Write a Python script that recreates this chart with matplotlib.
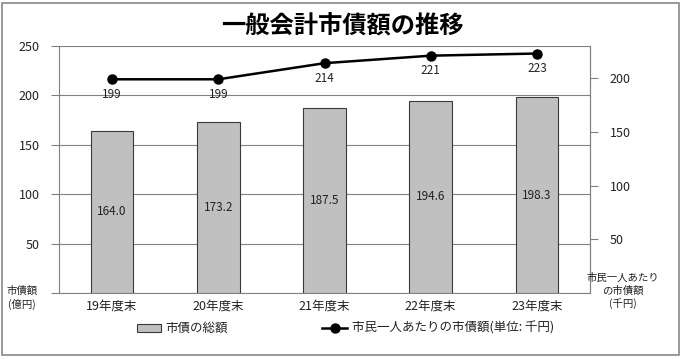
import matplotlib
matplotlib.use("Agg")
import matplotlib.pyplot as plt
from matplotlib.patches import Rectangle
from matplotlib.lines import Line2D

plt.rcParams['font.family'] = ['Noto Sans CJK JP', 'DejaVu Sans']

categories = ["19年度末", "20年度末", "21年度末", "22年度末", "23年度末"]
total_debt = [164.0, 173.2, 187.5, 194.6, 198.3]
per_capita = [199, 199, 214, 221, 223]
left_ticks = [50, 100, 150, 200, 250]
right_ticks = [50, 100, 150, 200]

W, H = 684, 359
fig = plt.figure(figsize=(W/100, H/100), dpi=100)
fig.patch.set_facecolor('white')
fig.patches.append(Rectangle((2/W, 4/H), 677/W, 352/H, transform=fig.transFigure,
                             fill=False, edgecolor='#888888', linewidth=1.2))

L, R, T, B = 59, 590, 46, 293
ax = fig.add_axes([L/W, 1-B/H, (R-L)/W, (B-T)/H])
x = list(range(len(categories)))
ax.bar(x, total_debt, width=0.4, color='#C0C0C0', edgecolor='#3a3a3a', linewidth=0.8, zorder=3)
ax.set_xlim(-0.5, len(categories)-0.5)
ax.set_ylim(0, 250)
ax.set_yticks([0] + left_ticks)
ax.set_yticklabels([''] + [str(v) for v in left_ticks])
ax.yaxis.grid(True, color='#808080', linewidth=0.8, zorder=0)
ax.set_axisbelow(True)
ax.set_xticks(x)
ax.set_xticklabels(categories)
ax.tick_params(axis='x', length=0, pad=5, labelsize=9, colors='#222222')
ax.tick_params(axis='y', length=6, direction='out', pad=8, labelsize=9, colors='#808080', labelcolor='#222222')
for s in ['top']:
    ax.spines[s].set_visible(False)
for s in ['left', 'right', 'bottom']:
    ax.spines[s].set_color('#808080')
for xi, v in zip(x, total_debt):
    ax.text(xi, v/2, f"{v:.1f}", ha='center', va='center', fontsize=8.5, color='#222222', zorder=4)

ax2 = ax.twinx()
ax2.set_ylim(0, 230)
ax2.plot(x, per_capita, color='black', linewidth=1.8, marker='o', markersize=6.5, zorder=5)
ax2.set_yticks(right_ticks)
ax2.tick_params(axis='y', length=6, direction='out', pad=8, labelsize=9, colors='#808080', labelcolor='#222222')
for s in ['top', 'left', 'bottom']:
    ax2.spines[s].set_visible(False)
ax2.spines['right'].set_color('#808080')
for xi, v in zip(x, per_capita):
    ax2.annotate(str(v), (xi, v), xytext=(0, -11), textcoords='offset points',
                 ha='center', va='center', fontsize=8.5, color='#222222')

fig.text(342/W, 1-27/H, "一般会計市債額の推移", ha='center', va='center',
         fontsize=17.5, fontweight='bold')
fig.text(22/W, 1-298/H, "市債額\n(億円)", ha='center', va='center', fontsize=7.5,
         linespacing=1.3, color='#222222')
fig.text(623/W, 1-291/H, "市民一人あたり\nの市債額\n(千円)", ha='center', va='center',
         fontsize=7.5, linespacing=1.3, color='#222222')

# legend
fig.patches.append(Rectangle((137/W, 1-332/H), 24/W, 8/H, transform=fig.transFigure,
                             facecolor='#C0C0C0', edgecolor='#3a3a3a', linewidth=0.8))
fig.text(165/W, 1-328/H, "市債の総額", ha='left', va='center', fontsize=9, color='#222222')
fig.lines.append(Line2D([322/W, 347/W], [1-328/H, 1-328/H], transform=fig.transFigure,
                        color='black', linewidth=1.8, marker=None))
fig.lines.append(Line2D([334.5/W], [1-328/H], transform=fig.transFigure,
                        color='black', marker='o', markersize=6.5))
fig.text(352/W, 1-328/H, "市民一人あたりの市債額(単位: 千円)", ha='left', va='center',
         fontsize=9, color='#222222')

fig.savefig("out.png", dpi=100)
